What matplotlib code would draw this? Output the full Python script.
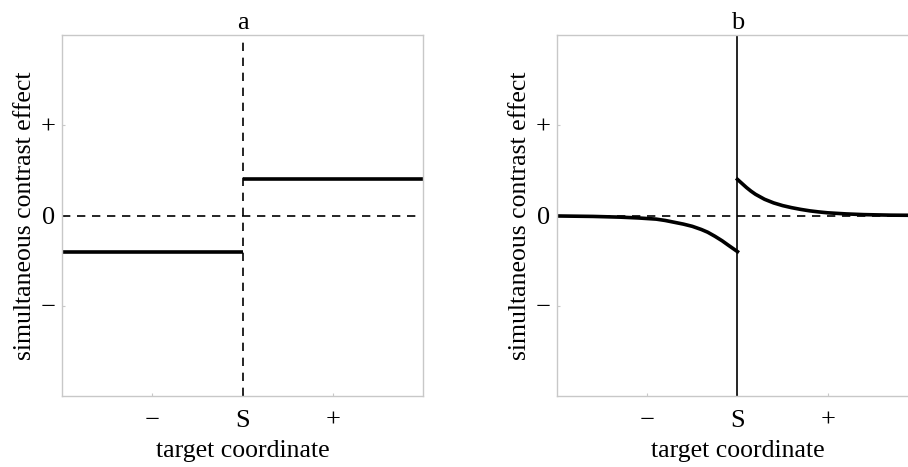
import matplotlib.pyplot as plt

plt.rcParams['font.family'] = ['Liberation Serif', 'DejaVu Serif']

# panel a: constant effect on each side of the border S
step_x_left = [-2.0, 0.0]
step_y_left = [-0.4, -0.4]
step_x_right = [0.0, 2.0]
step_y_right = [0.4, 0.4]

# panel b: effect decays with distance from S
curve_x_left = [-2.0, -1.6, -1.3, -1.1, -0.9, -0.8, -0.7, -0.6, -0.5, -0.4,
                -0.33, -0.25, -0.17, -0.1, -0.05, 0.0]
curve_y_left = [-0.005, -0.01, -0.018, -0.027, -0.04, -0.055, -0.075, -0.095, -0.12, -0.155,
                -0.185, -0.23, -0.28, -0.33, -0.365, -0.4]
curve_x_right = [0.0, 0.05, 0.1, 0.15, 0.2, 0.3, 0.4, 0.5, 0.6, 0.7, 0.8, 0.9, 1.0, 1.2, 1.4, 1.7, 2.0]
curve_y_right = [0.4, 0.355, 0.31, 0.27, 0.235, 0.18, 0.14, 0.11, 0.087, 0.068, 0.052, 0.04, 0.03,
                 0.018, 0.01, 0.004, 0.002]

xtick_pos = [-1, 0, 1]
xtick_labels = ['\u2212', 'S', '+']
ytick_pos = [-1, 0, 1]
ytick_labels = ['\u2212', '0', '+']

fig = plt.figure(figsize=(9.08, 4.67), dpi=100)
ax_a = fig.add_axes([0.0683, 0.152, 0.3976, 0.773])
ax_b = fig.add_axes([0.6134, 0.152, 0.3976, 0.773])

frame_col = '#c8c8c8'

for ax, title in [(ax_a, 'a'), (ax_b, 'b')]:
    ax.set_xlim(-2, 2)
    ax.set_ylim(-2, 2)
    ax.set_xticks(xtick_pos)
    ax.set_xticklabels(xtick_labels)
    ax.set_yticks(ytick_pos)
    ax.set_yticklabels(ytick_labels)
    ax.tick_params(direction='in', length=2, width=0.8, color=frame_col,
                   labelsize=19)
    ax.tick_params(axis='x', pad=10)
    ax.tick_params(axis='y', pad=5)
    for sp in ax.spines.values():
        sp.set_color(frame_col)
        sp.set_linewidth(1.0)
    ax.set_title(title, fontsize=19, pad=4)
    ax.set_xlabel('target coordinate', fontsize=18.5, labelpad=6)
    ax.set_ylabel('simultaneous contrast effect', fontsize=18.5, labelpad=3)

# panel a
ax_a.plot([0, 0], [-2, 1.95], color='black', lw=1.2, ls=(0, (5, 4)))
ax_a.plot([-2, 1.95], [0, 0], color='black', lw=1.2, ls=(0, (5, 4)))
ax_a.plot(step_x_left, step_y_left, color='black', lw=2.6, solid_capstyle='butt')
ax_a.plot(step_x_right, step_y_right, color='black', lw=2.6, solid_capstyle='butt')

# panel b
ax_b.plot([-2, 2], [0, 0], color='black', lw=1.2, ls=(0, (5, 4)))
ax_b.axvline(0, color='black', lw=1.2)
ax_b.plot(curve_x_left, curve_y_left, color='black', lw=2.6, solid_joinstyle='round')
ax_b.plot(curve_x_right, curve_y_right, color='black', lw=2.6, solid_joinstyle='round')

fig.savefig('out.png', dpi=100)
